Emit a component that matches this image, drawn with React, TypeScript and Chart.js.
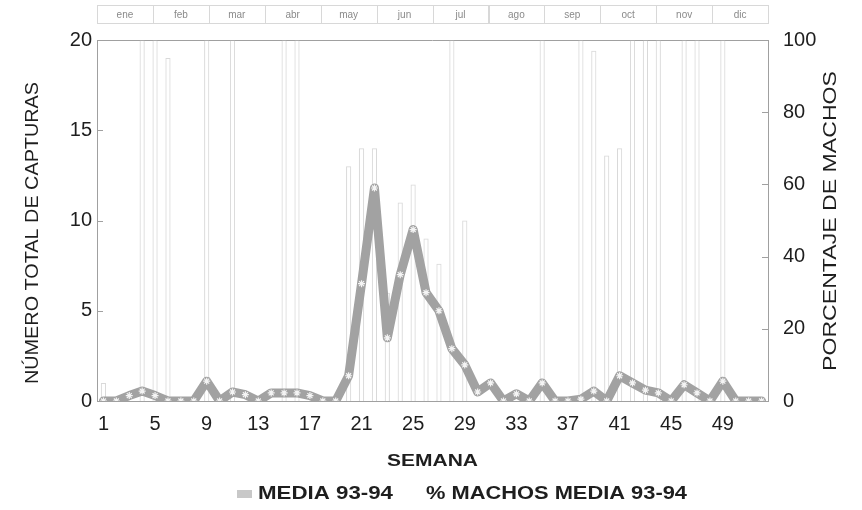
import React, { useEffect, useRef } from "react";
import { Chart, registerables } from "chart.js";

Chart.register(...registerables);

const weeks = [
  "1","2","3","4","5","6","7","8","9","10","11","12","13",
  "14","15","16","17","18","19","20","21","22","23","24","25","26",
  "27","28","29","30","31","32","33","34","35","36","37","38","39",
  "40","41","42","43","44","45","46","47","48","49","50","51","52",
];

const months = ["ene","feb","mar","abr","may","jun","jul","ago","sep","oct","nov","dic"];

// MEDIA 93-94 (número total de capturas)
const mediaCapturas = [
  0, 0, 0.3, 0.55, 0.3, 0, 0, 0, 1.1, 0, 0.5, 0.35, 0,
  0.45, 0.45, 0.45, 0.3, 0, 0, 1.4, 6.5, 11.8, 3.5, 7.0, 9.5, 6.0,
  5.0, 2.9, 2.0, 0.5, 1.0, 0, 0.4, 0, 1.0, 0, 0, 0.1, 0.55,
  0, 1.4, 1.0, 0.6, 0.45, 0, 0.9, 0.45, 0, 1.1, 0, 0, 0,
];

// % MACHOS MEDIA 93-94
const porcentajeMachos = [
  5, 0, 0, 100, 100, 95, 0, 0, 100, 0, 100, 0, 0,
  0, 100, 100, 0, 0, 0, 65, 70, 70, 30, 55, 60, 45,
  38, 100, 50, 0, 0, 0, 0, 0, 100, 0, 0, 100, 97,
  68, 70, 100, 100, 100, 0, 100, 100, 0, 100, 0, 0, 0,
];

const leftTicks = [0, 5, 10, 15, 20];
const rightTicks = [0, 20, 40, 60, 80, 100];

const FONT = "'Liberation Sans', Arial, sans-serif";

function stretchText(ctx: any, text: string, cx: number, cy: number, width: number, rot: number) {
  ctx.save();
  ctx.translate(cx, cy);
  if (rot) ctx.rotate(rot);
  const m = ctx.measureText(text).width;
  ctx.scale(width / m, 1);
  ctx.textAlign = "center";
  ctx.textBaseline = "middle";
  ctx.fillText(text, 0, 0);
  ctx.restore();
}

const decorPlugin = {
  id: "decor",
  beforeDatasetsDraw(chart: any) {
    const { ctx, chartArea } = chart;
    const { left, right, top } = chartArea;
    ctx.save();
    // month header boxes
    const w = (right - left) / months.length;
    ctx.strokeStyle = "#d8d8d8";
    ctx.lineWidth = 1;
    ctx.font = `10px ${FONT}`;
    ctx.fillStyle = "#8a8a8a";
    ctx.textAlign = "center";
    ctx.textBaseline = "middle";
    months.forEach((m, i) => {
      const x = left + i * w;
      ctx.strokeRect(Math.round(x) + 0.5, 5.5, Math.round(w), 18);
      ctx.fillText(m, x + w / 2, 15);
    });
    // top border of plot
    ctx.strokeStyle = "#a0a0a0";
    ctx.beginPath();
    ctx.moveTo(left, top + 0.5);
    ctx.lineTo(right, top + 0.5);
    ctx.stroke();
    // inward tick marks
    const y = chart.scales.y;
    const y1 = chart.scales.y1;
    leftTicks.forEach((v) => {
      const py = Math.round(y.getPixelForValue(v)) + 0.5;
      ctx.beginPath();
      ctx.moveTo(left, py);
      ctx.lineTo(left + 6, py);
      ctx.stroke();
    });
    rightTicks.forEach((v) => {
      const py = Math.round(y1.getPixelForValue(v)) + 0.5;
      ctx.beginPath();
      ctx.moveTo(right - 6, py);
      ctx.lineTo(right, py);
      ctx.stroke();
    });
    ctx.restore();
  },
  afterDraw(chart: any) {
    const { ctx, chartArea } = chart;
    const { left, right } = chartArea;
    ctx.save();
    ctx.fillStyle = "#1e1e1e";
    // axis titles
    ctx.font = `18px ${FONT}`;
    stretchText(ctx, "NÚMERO TOTAL DE CAPTURAS", 33, 233, 302, -Math.PI / 2);
    stretchText(ctx, "PORCENTAJE DE MACHOS", 831, 221, 300, -Math.PI / 2);
    ctx.font = `bold 17px ${FONT}`;
    stretchText(ctx, "SEMANA", (left + right) / 2, 461, 91, 0);
    // legend
    ctx.font = `bold 18px ${FONT}`;
    ctx.fillStyle = "#c8c8c8";
    ctx.fillRect(237, 490, 15, 8);
    ctx.fillStyle = "#1e1e1e";
    stretchText(ctx, "MEDIA 93-94", 258 + 135 / 2, 494, 135, 0);
    stretchText(ctx, "% MACHOS MEDIA 93-94", 426 + 261 / 2, 494, 261, 0);
    ctx.restore();
  },
};

export default function App() {
  const ref = useRef<HTMLCanvasElement | null>(null);
  useEffect(() => {
    if (!ref.current) return;
    const chart = new Chart(ref.current, {
      data: {
        labels: weeks,
        datasets: [
          {
            type: "line",
            label: "MEDIA 93-94",
            data: mediaCapturas,
            yAxisID: "y",
            borderColor: "#a2a2a2",
            borderWidth: 9,
            borderJoinStyle: "round",
            borderCapStyle: "round",
            pointStyle: "star",
            pointRadius: 3.5,
            pointBorderColor: "#f4f4f4",
            pointBorderWidth: 1.2,
            pointBackgroundColor: "#f4f4f4",
            tension: 0,
            order: 0,
          },
          {
            type: "bar",
            label: "% MACHOS MEDIA 93-94",
            data: porcentajeMachos,
            yAxisID: "y1",
            backgroundColor: "rgba(255,255,255,0)",
            borderColor: "rgba(180,180,180,0.5)",
            borderWidth: 1,
            barPercentage: 0.4,
            categoryPercentage: 1,
            order: 1,
          },
        ],
      } as any,
      plugins: [decorPlugin],
      options: {
        animation: false,
        responsive: false,
        maintainAspectRatio: false,
        layout: { padding: { top: 40, left: 0, right: 0, bottom: 0 } },
        plugins: {
          legend: { display: false },
          tooltip: { enabled: false },
          title: { display: false },
        },
        scales: {
          x: {
            type: "category",
            offset: true,
            grid: { display: false, drawTicks: false },
            border: { display: true, color: "#a0a0a0" },
            ticks: {
              autoSkip: false,
              maxRotation: 0,
              minRotation: 0,
              padding: 11,
              color: "#1e1e1e",
              font: { family: FONT, size: 20 },
              callback: (_v: any, i: number) => (i % 4 === 0 ? weeks[i] : ""),
            },
            afterFit: (s: any) => {
              s.height = 109;
            },
          },
          y: {
            position: "left",
            min: 0,
            max: 20,
            grid: { display: false, drawTicks: false },
            border: { display: true, color: "#a0a0a0" },
            ticks: {
              stepSize: 5,
              padding: 5,
              color: "#1e1e1e",
              font: { family: FONT, size: 20 },
            },
            afterFit: (s: any) => {
              s.width = 97;
            },
          },
          y1: {
            position: "right",
            min: 0,
            max: 100,
            grid: { display: false, drawTicks: false },
            border: { display: true, color: "#a0a0a0" },
            ticks: {
              stepSize: 20,
              padding: 15,
              color: "#1e1e1e",
              font: { family: FONT, size: 20 },
            },
            afterFit: (s: any) => {
              s.width = 94;
            },
          },
        },
      } as any,
    });
    return () => chart.destroy();
  }, []);
  return (
    <div style={{ position: "fixed", left: 0, top: 0, width: 862, height: 510, background: "#fff" }}>
      <canvas ref={ref} width={862} height={510} style={{ width: 862, height: 510, display: "block" }} />
    </div>
  );
}
